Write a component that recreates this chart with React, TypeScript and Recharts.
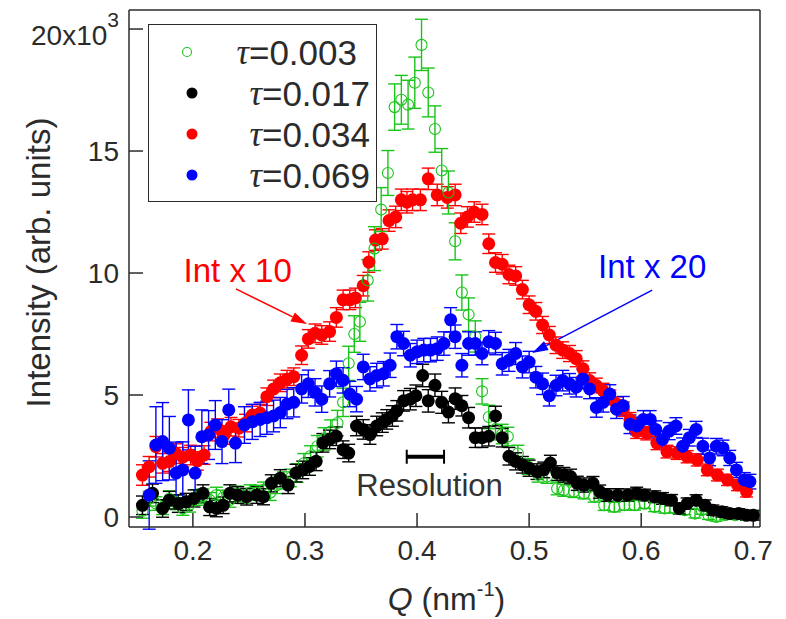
import React from 'react';
import {
  ScatterChart, Scatter, XAxis, YAxis, ErrorBar, Legend,
  ReferenceLine, ReferenceDot,
} from 'recharts';

const FONT = '"Liberation Sans", Arial, Helvetica, sans-serif';
const INK = '#2b2b2b';

const Q_TICKS = [0.2, 0.3, 0.4, 0.5, 0.6, 0.7];
const I_TICKS = [0, 5000, 10000, 15000, 20000];

// tau = 0.003 (open green circles)
const greenQ = [
  0.155, 0.161, 0.167, 0.173, 0.179, 0.185, 0.191, 0.197, 0.203, 0.209,
  0.215, 0.221, 0.227, 0.233, 0.239, 0.245, 0.251, 0.257, 0.263, 0.269,
  0.275, 0.281, 0.287, 0.293, 0.299, 0.305, 0.311, 0.317, 0.323, 0.329,
  0.334, 0.339, 0.344, 0.349, 0.356, 0.362, 0.368, 0.374,
  0.380, 0.386, 0.392, 0.398, 0.404, 0.410, 0.416, 0.422, 0.428,
  0.434, 0.440, 0.446, 0.452, 0.458, 0.464, 0.470, 0.476, 0.481,
  0.490, 0.499, 0.508, 0.516, 0.525, 0.531, 0.540, 0.549, 0.558, 0.567,
  0.576, 0.585, 0.594, 0.603, 0.612, 0.621, 0.630, 0.639, 0.648, 0.654,
  0.660, 0.667, 0.675, 0.684, 0.692, 0.700,
];
const greenI = [
  250, 750, 550, 400, 750, 600, 350, 500, 800, 850,
  700, 900, 800, 700, 950, 850, 1000, 1000, 1100, 1000,
  1300, 1500, 1600, 1800, 2200, 2500, 2900, 3200, 3500, 3850,
  4700, 6300, 7500, 8000, 9700, 11000, 12600, 14100,
  16800, 17100, 16900, 17800, 19350, 17400, 15900, 14200, 13300,
  11300, 9200, 8300, 7400, 5150, 4100, 3600, 3400, 3300,
  2600, 2070, 1730, 1660, 1170, 1100, 1040, 970, 830, 480,
  410, 480, 480, 550, 410, 350, 350, 280, 140, 280,
  70, 0, 70, 70, 70, 70,
];
const greenErr = [
  300, 300, 280, 300, 320, 300, 280, 300, 320, 300,
  300, 320, 300, 300, 320, 300, 320, 300, 330, 320,
  340, 350, 360, 380, 400, 420, 440, 460, 480, 520,
  580, 700, 750, 800, 850, 900, 900, 920,
  950, 1000, 1000, 1050, 1050, 1000, 950, 900, 880,
  760, 720, 680, 640, 520, 480, 440, 400, 380,
  340, 320, 300, 280, 260, 250, 240, 230, 220, 210,
  200, 200, 200, 200, 190, 190, 180, 180, 180, 170,
  170, 170, 160, 160, 160, 160,
];

// tau = 0.017 (black)
const blackQ = [
  0.155, 0.164, 0.173, 0.179, 0.187, 0.194, 0.201, 0.209, 0.215, 0.221,
  0.227, 0.233, 0.240, 0.248, 0.257, 0.263, 0.270, 0.278, 0.285, 0.292,
  0.298, 0.304, 0.310, 0.316, 0.322, 0.328, 0.334, 0.339, 0.346, 0.352,
  0.358, 0.364, 0.369, 0.373, 0.378, 0.382, 0.388, 0.394, 0.399, 0.405,
  0.410, 0.416, 0.422, 0.428, 0.434, 0.440, 0.446, 0.452, 0.458, 0.464,
  0.470, 0.476, 0.482, 0.488, 0.494, 0.500, 0.507, 0.513, 0.519, 0.525,
  0.531, 0.537, 0.543, 0.549, 0.557, 0.563, 0.570, 0.579, 0.588, 0.596,
  0.603, 0.612, 0.619, 0.627, 0.634, 0.641, 0.649, 0.657, 0.664, 0.672,
  0.679, 0.687, 0.694, 0.700,
];
const blackI = [
  480, 970, 350, 690, 550, 620, 760, 970, 410, 350,
  480, 970, 900, 830, 900, 830, 1380, 1590, 1310, 1800,
  1930, 2070, 2280, 3040, 3180, 3310, 2760, 2620, 3730, 3590,
  3380, 3730, 3870, 4000, 4140, 4350, 4760, 4830, 4970, 5800,
  4760, 5400, 4700, 4300, 4850, 4560, 4070, 3250, 3250, 3310,
  4140, 3250, 2490, 2280, 2140, 2000, 1860, 1930, 2210, 1800,
  1730, 1660, 1380, 1310, 1380, 1040, 900, 900, 900, 970,
  900, 830, 760, 690, 350, 550, 690, 480, 280, 210,
  140, 140, 70, 70,
];
const blackErr = [
  380, 380, 360, 360, 360, 350, 350, 350, 350, 340,
  340, 350, 340, 340, 340, 330, 350, 350, 350, 360,
  360, 360, 380, 380, 380, 380, 360, 360, 400, 400,
  400, 400, 400, 400, 420, 420, 420, 440, 440, 460,
  460, 460, 450, 440, 440, 420, 420, 400, 400, 400,
  400, 380, 360, 350, 340, 330, 320, 320, 320, 300,
  300, 300, 290, 290, 280, 270, 260, 260, 250, 250,
  240, 240, 240, 230, 230, 230, 220, 220, 210, 210,
  200, 200, 200, 200,
];

// tau = 0.034 (red, Int x 10)
const redQ = [
  0.155, 0.161, 0.167, 0.173, 0.179, 0.185, 0.191, 0.198, 0.204, 0.210,
  0.216, 0.222, 0.228, 0.234, 0.241, 0.247, 0.253, 0.260, 0.266, 0.272,
  0.278, 0.284, 0.290, 0.297, 0.303, 0.309, 0.315, 0.322, 0.328, 0.334,
  0.340, 0.345, 0.352, 0.357, 0.363, 0.369, 0.375, 0.381, 0.386, 0.391,
  0.396, 0.403, 0.410, 0.418, 0.427, 0.434, 0.439, 0.445, 0.451, 0.458,
  0.464, 0.470, 0.476, 0.482, 0.488, 0.494, 0.500, 0.506, 0.512, 0.518,
  0.524, 0.530, 0.536, 0.542, 0.548, 0.554, 0.560, 0.566, 0.572, 0.578,
  0.584, 0.590, 0.596, 0.605, 0.614, 0.623, 0.632, 0.641, 0.650, 0.659,
  0.668, 0.677, 0.686, 0.694,
];
const redI = [
  1720, 2060, 2880, 2200, 2270, 2600, 2450, 2540, 2300, 2540,
  3500, 3640, 3360, 3700, 3640, 3850, 4180, 4260, 4930, 5250,
  5500, 5650, 5750, 6630, 7300, 7530, 7460, 7600, 8180, 8900,
  8900, 8980, 9480, 10450, 11350, 11400, 12150, 12300, 13000, 12900,
  13000, 13000, 13860, 13200, 13100, 13200, 12040, 12300, 12500, 12400,
  11200, 10430, 10360, 9940, 9880, 9320, 8700, 8430, 7870, 7460,
  7040, 6840, 6700, 6490, 6080, 5590, 5390, 5180, 4900, 4630,
  4420, 4000, 3500, 3430, 3030, 2680, 2620, 2470, 2340, 1930,
  1720, 1520, 1310, 1040,
];
const redErr = [
  420, 420, 420, 400, 400, 400, 400, 400, 380, 380,
  380, 380, 380, 380, 360, 360, 360, 360, 360, 360,
  360, 360, 360, 380, 380, 380, 380, 400, 400, 400,
  400, 400, 420, 420, 420, 420, 440, 440, 440, 440,
  440, 440, 440, 440, 440, 440, 420, 420, 420, 420,
  400, 400, 400, 380, 380, 380, 360, 360, 350, 350,
  340, 340, 330, 330, 320, 320, 300, 300, 300, 290,
  290, 280, 280, 270, 270, 260, 260, 250, 250, 240,
  240, 230, 230, 220,
];

// tau = 0.069 (blue, Int x 20)
const blueQ = [
  0.161, 0.167, 0.173, 0.179, 0.185, 0.191, 0.196, 0.202, 0.208, 0.214,
  0.220, 0.226, 0.232, 0.238, 0.246, 0.253, 0.260, 0.266, 0.272, 0.278,
  0.284, 0.290, 0.297, 0.303, 0.309, 0.315, 0.322, 0.328, 0.334, 0.340,
  0.346, 0.352, 0.358, 0.364, 0.370, 0.376, 0.382, 0.388, 0.394, 0.400,
  0.406, 0.412, 0.418, 0.424, 0.430, 0.434, 0.440, 0.446, 0.452, 0.458,
  0.464, 0.470, 0.476, 0.482, 0.488, 0.494, 0.500, 0.506, 0.512, 0.518,
  0.524, 0.530, 0.536, 0.542, 0.548, 0.554, 0.560, 0.566, 0.572, 0.578,
  0.584, 0.590, 0.596, 0.602, 0.608, 0.613, 0.619, 0.625, 0.631, 0.637,
  0.643, 0.649, 0.655, 0.661, 0.667, 0.673, 0.679, 0.685, 0.692, 0.697,
];
const blueI = [
  900, 2950, 3090, 2820, 1800, 1930, 3980, 1800, 3290, 3360,
  3770, 3090, 4390, 3030, 3770, 3900, 4000, 4070, 4140, 4280,
  4630, 4700, 5250, 5460, 5110, 4830, 5460, 5870, 5600, 5040,
  4830, 6150, 5660, 5800, 5870, 6220, 7390, 7110, 6630, 6770,
  6840, 6840, 6900, 7110, 8080, 7390, 6220, 7110, 7110, 6700,
  7180, 7110, 6280, 6420, 6700, 6150, 6350, 5730, 5460, 4970,
  5390, 5590, 5460, 5320, 5660, 5250, 4490, 4700, 5040, 4420,
  4560, 3800, 3730, 4000, 4000, 3590, 3180, 3520, 3730, 2900,
  3250, 3590, 2900, 2420, 2900, 2830, 2420, 1930, 1520, 1450,
];
const blueErr = [
  1400, 1570, 1600, 1300, 1270, 1150, 1230, 1100, 1100, 1000,
  1000, 900, 850, 800, 750, 720, 700, 680, 650, 620,
  600, 600, 580, 560, 560, 540, 540, 520, 520, 520,
  520, 520, 500, 500, 500, 500, 500, 500, 480, 480,
  480, 480, 480, 480, 500, 480, 480, 480, 480, 460,
  460, 460, 460, 450, 450, 450, 440, 440, 440, 420,
  420, 420, 420, 400, 400, 400, 400, 400, 380, 380,
  380, 380, 360, 360, 360, 350, 350, 350, 340, 340,
  340, 330, 330, 320, 320, 320, 310, 310, 300, 300,
];

const rows = (q: number[], v: number[], e: number[]) =>
  q.map((x, i) => ({ q: x, v: v[i], err: e[i] }));

const SERIES = [
  { name: '=0.003', color: '#19c419', open: true, data: rows(greenQ, greenI, greenErr) },
  { name: '=0.017', color: '#000000', open: false, data: rows(blackQ, blackI, blackErr) },
  { name: '=0.034', color: '#ff0000', open: false, data: rows(redQ, redI, redErr) },
  { name: '=0.069', color: '#0000ff', open: false, data: rows(blueQ, blueI, blueErr) },
];
// red first, blue on top
const DRAW_ORDER = [2, 0, 1, 3];

const marker = (color: string, open: boolean) => (p: any) =>
  open
    ? <circle cx={p.cx} cy={p.cy} r={5.5} fill="none" stroke={color} strokeWidth={1.1} />
    : <circle cx={p.cx} cy={p.cy} r={6.5} fill={color} />;

const arrow = (color: string) => (p: any) => {
  const { x1, y1, x2, y2 } = p;
  const a = Math.atan2(y2 - y1, x2 - x1);
  const L = 16, W = 5;
  const bx = x2 - L * Math.cos(a), by = y2 - L * Math.sin(a);
  const pts = `${x2},${y2} ${bx - W * Math.sin(a)},${by + W * Math.cos(a)} ${bx + W * Math.sin(a)},${by - W * Math.cos(a)}`;
  return (
    <g>
      <line x1={x1} y1={y1} x2={bx} y2={by} stroke={color} strokeWidth={1.5} />
      <polygon points={pts} fill={color} />
    </g>
  );
};

const resolutionBar = (p: any) => (
  <g stroke="#000">
    <line x1={p.x1} y1={p.y1} x2={p.x2} y2={p.y2} strokeWidth={4} />
    <line x1={p.x1} y1={p.y1 - 7} x2={p.x1} y2={p.y1 + 7} strokeWidth={2} />
    <line x1={p.x2} y1={p.y2 - 7} x2={p.x2} y2={p.y2 + 7} strokeWidth={2} />
  </g>
);

const label = (text: string, color: string, size: number) => (p: any) => (
  <text x={p.cx} y={p.cy} textAnchor="middle" dominantBaseline="central"
    style={{ fontFamily: FONT, fontSize: size, fill: color }}>{text}</text>
);

const YTick = (p: any) => {
  const v = p.payload.value;
  const style = { fontFamily: FONT, fontSize: 28, fill: INK };
  if (v === 20000) {
    return (
      <text x={p.x} y={p.y + 16} textAnchor="end" style={style}>
        20x10<tspan dy={-18} fontSize={21}>3</tspan>
      </text>
    );
  }
  return <text x={p.x} y={p.y} dy="0.355em" textAnchor="end" style={style}>{v / 1000}</text>;
};

const YTitle = (p: any) => {
  const vb = p.viewBox;
  const cx = vb.x + 38;
  const cy = vb.y + vb.height / 2 - 6;
  return (
    <text x={cx} y={cy} transform={`rotate(-90 ${cx} ${cy})`} textAnchor="middle" dominantBaseline="central"
      style={{ fontFamily: FONT, fontSize: 33, fill: INK }}>
      Intensity (arb. units)
    </text>
  );
};

const XTitle = (p: any) => {
  const vb = p.viewBox;
  return (
    <text x={vb.x + vb.width / 2 + 2} y={vb.y + 83} textAnchor="middle"
      style={{ fontFamily: FONT, fontSize: 32, fill: INK }}>
      <tspan fontStyle="italic">Q</tspan> (nm<tspan dy={-14} fontSize={20}>-1</tspan><tspan dy={14}>)</tspan>
    </text>
  );
};

const LegendBox = () => (
  <div style={{ width: 229, height: 178, boxSizing: 'border-box', border: `1.5px solid ${INK}`, background: '#fff' }}>
    <svg width={226} height={175}>
      {SERIES.map((s, i) => {
        const y = 27 + i * 41;
        return (
          <g key={s.name}>
            {s.open
              ? <circle cx={38} cy={y} r={4.5} fill="none" stroke={s.color} strokeWidth={1.1} />
              : <circle cx={43} cy={y} r={5.5} fill={s.color} />}
            <text x={i === 0 ? 208 : 221} y={y} textAnchor="end" dominantBaseline="central"
              style={{ fontFamily: FONT, fontSize: 35, fill: INK }}>
              <tspan fontFamily='"Liberation Serif", "DejaVu Serif", serif' fontStyle="italic">τ</tspan>{s.name}
            </text>
          </g>
        );
      })}
    </svg>
  </div>
);

const axisLine = { stroke: INK, strokeWidth: 1.5 };

export default function App() {
  return (
    <div style={{ position: 'absolute', left: 0, top: 0, background: '#fff' }}>
      <ScatterChart width={786} height={619} margin={{ top: 0, right: 0, bottom: 0, left: 0 }}>
        <XAxis xAxisId="b" dataKey="q" type="number" domain={[0.143, 0.706]} allowDataOverflow
          ticks={Q_TICKS} height={92} tickSize={-14} tickMargin={27}
          axisLine={axisLine} tickLine={axisLine}
          tick={{ fontFamily: FONT, fontSize: 28, fill: INK }}
          tickFormatter={(v: number) => v.toFixed(1)} label={<XTitle />} />
        <XAxis xAxisId="t" orientation="top" type="number" domain={[0.143, 0.706]} allowDataOverflow
          ticks={Q_TICKS} height={10} tickSize={-14} axisLine={axisLine} tickLine={axisLine} tick={false} />
        <YAxis yAxisId="l" dataKey="v" type="number" domain={[-410, 20780]} allowDataOverflow
          ticks={I_TICKS} width={129} tickSize={-14} tickMargin={24}
          axisLine={axisLine} tickLine={axisLine} tick={<YTick />} label={<YTitle />} />
        <YAxis yAxisId="r" orientation="right" type="number" domain={[-410, 20780]} allowDataOverflow
          ticks={I_TICKS} width={26} tickSize={-14} axisLine={axisLine} tickLine={axisLine} tick={false} />

        {DRAW_ORDER.map((k) => {
          const s = SERIES[k];
          return (
            <Scatter key={s.name} name={s.name} data={s.data} xAxisId="b" yAxisId="l"
              fill={s.color} shape={marker(s.color, s.open)} isAnimationActive={false}>
              <ErrorBar dataKey="err" direction="y" width={6.5} stroke={s.color} strokeWidth={1.4}
                isAnimationActive={false} />
            </Scatter>
          );
        })}

        <ReferenceLine xAxisId="b" yAxisId="l" segment={[{ x: 0.2384, y: 9350 }, { x: 0.3018, y: 7910 }]}
          shape={arrow('#ff0000')} />
        <ReferenceLine xAxisId="b" yAxisId="l" segment={[{ x: 0.6098, y: 9300 }, { x: 0.5027, y: 6720 }]}
          shape={arrow('#0000ff')} />
        <ReferenceLine xAxisId="b" yAxisId="l" segment={[{ x: 0.3908, y: 2470 }, { x: 0.4241, y: 2470 }]}
          shape={resolutionBar} />
        <ReferenceDot xAxisId="b" yAxisId="l" x={0.240} y={10100} r={1} shape={label('Int x 10', '#ff0000', 33)} />
        <ReferenceDot xAxisId="b" yAxisId="l" x={0.6098} y={10250} r={1} shape={label('Int x 20', '#0000ff', 33)} />
        <ReferenceDot xAxisId="b" yAxisId="l" x={0.4112} y={1290} r={1} shape={label('Resolution', '#333', 31)} />

        <Legend layout="vertical" align="center" verticalAlign="middle" content={<LegendBox />}
          wrapperStyle={{ left: 148, top: 24, width: 229, height: 178 }} />
      </ScatterChart>
    </div>
  );
}
